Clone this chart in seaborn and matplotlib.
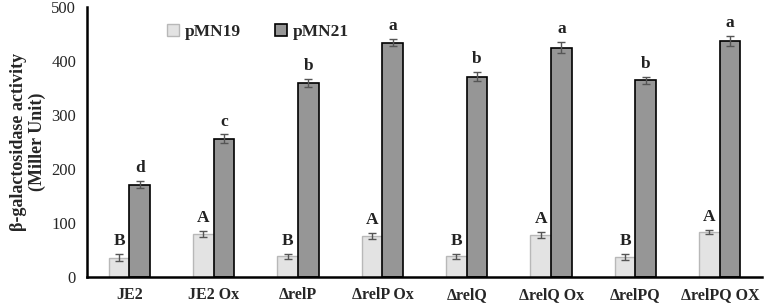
import numpy as np
import pandas as pd
import matplotlib
matplotlib.use("Agg")
import matplotlib.pyplot as plt
from matplotlib.patches import Patch
import seaborn as sns

strains = ["JE2", "JE2 Ox", "ΔrelP", "ΔrelP Ox", "ΔrelQ", "ΔrelQ Ox", "ΔrelPQ", "ΔrelPQ OX"]
pmn19 = [36, 80, 38, 76, 38, 78, 37, 83]
pmn19_err = [7, 6, 5, 6, 5, 5, 5, 4]
pmn21 = [171, 256, 359, 434, 371, 425, 364, 437]
pmn21_err = [7, 8, 7, 7, 8, 10, 7, 9]
letters19 = ["B", "A", "B", "A", "B", "A", "B", "A"]
letters21 = ["d", "c", "b", "a", "b", "a", "b", "a"]

df = pd.DataFrame({
    "strain": strains * 2,
    "plasmid": ["pMN19"] * 8 + ["pMN21"] * 8,
    "value": pmn19 + pmn21,
})

light_c, dark_c = "#e3e3e3", "#969696"
light_e, dark_e = "#b8b8b8", "black"

sns.set_style("white")
plt.rcParams["font.family"] = ["Liberation Serif", "DejaVu Serif"]

fig = plt.figure(figsize=(7.65, 3.05), dpi=100)
ax = fig.add_axes([0.114, 0.092, 0.882, 0.885])

sns.barplot(data=df, x="strain", y="value", hue="plasmid",
            palette=[light_c, dark_c], width=0.49, errorbar=None,
            ax=ax, gap=0, legend=False)

n = len(strains)
light = ax.patches[:n]
dark = ax.patches[n:2 * n]
for p in light:
    p.set_edgecolor(light_e)
    p.set_linewidth(1.0)
for p in dark:
    p.set_edgecolor(dark_e)
    p.set_linewidth(1.2)

# error bars and significance letters
for bars, vals, errs, labs in [(light, pmn19, pmn19_err, letters19),
                               (dark, pmn21, pmn21_err, letters21)]:
    xs = [p.get_x() + p.get_width() / 2 for p in bars]
    ax.errorbar(xs, vals, yerr=errs, fmt="none", ecolor="#555555",
                elinewidth=1.0, capsize=3, capthick=1.0)
    for x, v, e, t in zip(xs, vals, errs, labs):
        ax.text(x, v + e + 9, t, ha="center", va="bottom",
                fontsize=12.5, fontweight="bold", color="#222222")

ax.set_ylim(0, 500)
ax.set_yticks([0, 100, 200, 300, 400, 500])
ax.set_xlim(-0.5, n - 0.5)
ax.set_xticks(np.arange(n))
ax.set_xticklabels(strains, fontweight="bold", fontsize=11.5)
ax.tick_params(axis="x", length=0, pad=7)
ax.set_xticks(np.arange(n + 1) - 0.5, minor=True)
ax.tick_params(axis="x", which="minor", length=5, width=1.5, direction="out")
ax.tick_params(axis="y", length=5, width=1.5, direction="out", labelsize=12, pad=3)
ax.set_xlabel("")
ax.set_ylabel("β-galactosidase activity\n(Miller Unit)", fontweight="bold",
              fontsize=13, linespacing=1.1)
sns.despine(ax=ax)
for s in ["left", "bottom"]:
    ax.spines[s].set_linewidth(1.8)
    ax.spines[s].set_color("black")

handles = [Patch(facecolor=light_c, edgecolor=light_e, linewidth=1.0, label="pMN19"),
           Patch(facecolor=dark_c, edgecolor=dark_e, linewidth=1.2, label="pMN21")]
ax.legend(handles=handles, loc="upper left", bbox_to_anchor=(0.095, 0.995), ncol=2,
          frameon=False, prop={"weight": "bold", "size": 12.5},
          handlelength=0.7, handleheight=0.7, handletextpad=0.3,
          columnspacing=2.0)

fig.savefig("out.png", dpi=100)
